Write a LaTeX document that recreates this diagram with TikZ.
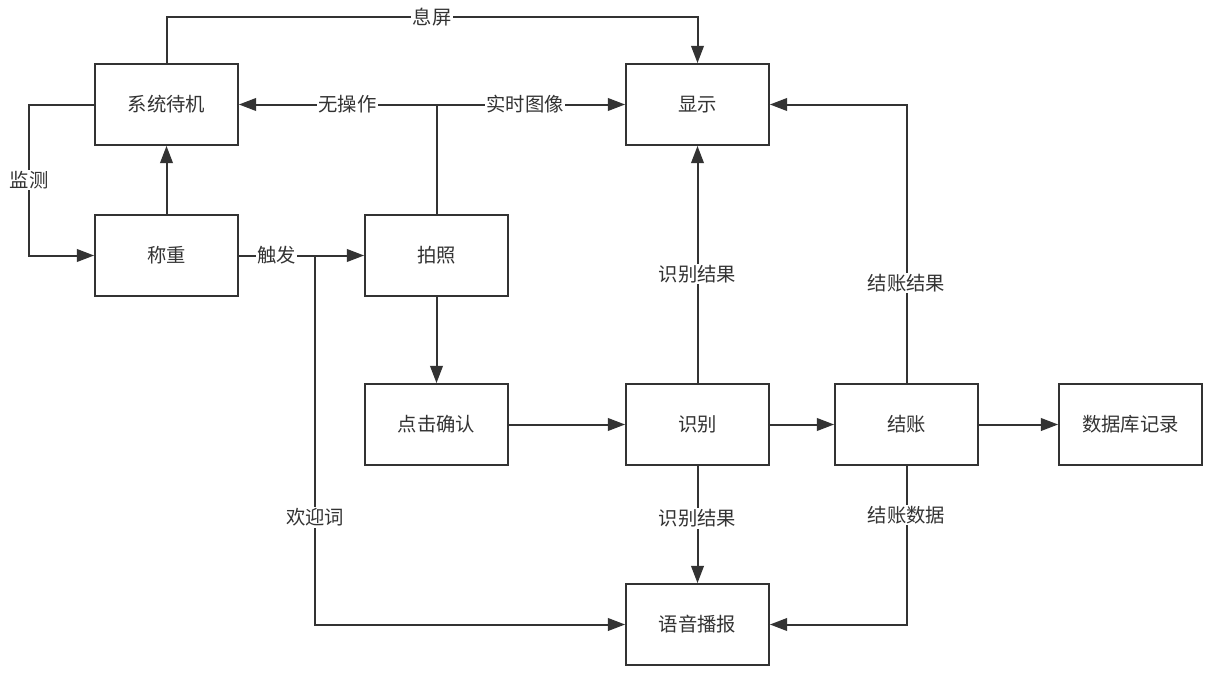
\documentclass[tikz,border=0pt]{standalone}
\usepackage{fontspec}
\setmainfont{Noto Sans CJK SC}
\usetikzlibrary{arrows.meta}
\definecolor{ink}{HTML}{333333}
\begin{document}
\begin{tikzpicture}[x=0.75pt,y=-0.75pt,
  box/.style={draw=ink,line width=1.6pt,minimum width=107pt,minimum height=60.5pt,inner sep=0pt,text=ink,font=\fontsize{14.5}{16}\selectfont},
  conn/.style={draw=ink,line width=1.5pt},
  arr/.style={conn,-{Triangle[length=13pt,width=9.5pt]}},
  lbl/.style={fill=white,inner sep=1pt,text=ink,font=\fontsize{14.5}{16}\selectfont}]
\useasboundingbox (0,0) rectangle (1213,678);
\fill[white] (0,0) rectangle (1213,678);

% boxes
\node[box] (standby) at (166.5,104.5) {系统待机};
\node[box] (weigh)   at (166.5,255.5) {称重};
\node[box] (photo)   at (436.5,255.5) {拍照};
\node[box] (show)    at (697.5,104.5) {显示};
\node[box] (confirm) at (436.5,424.5) {点击确认};
\node[box] (recog)   at (697.5,424.5) {识别};
\node[box] (pay)     at (906.5,424.5) {结账};
\node[box] (db)      at (1130.5,424.5) {数据库记录};
\node[box] (voice)   at (697.5,624.5) {语音播报};

% helper points
\coordinate (split) at (315,255.5);
\coordinate (fork) at (436.5,104.5);

% screen off
\draw[arr] (standby.north) -- ++(0,-46) -| node[lbl,pos=0.25] {息屏} (show.north);
% monitoring loop
\draw[arr] (standby.west) -- ++(-65,0) |- node[lbl,pos=0.25] {监测} (weigh.west);
\draw[arr] (weigh.north) -- (standby.south);
% trigger
\draw[arr] (weigh.east) -- node[lbl,pos=0.3] {触发} (photo.west);
% photo outputs
\draw[conn] (photo.north) -- (fork);
\draw[arr] (fork) -- node[lbl,pos=0.45] {无操作} (standby.east);
\draw[arr] (fork) -- node[lbl,pos=0.47] {实时图像} (show.west);
\draw[arr] (photo.south) -- (confirm.north);
\draw[arr] (confirm.east) -- (recog.west);
% recognition
\draw[arr] (recog.north) -- node[lbl,pos=0.46] {识别结果} (show.south);
\draw[arr] (recog.east) -- (pay.west);
\draw[arr] (recog.south) -- node[lbl,pos=0.45] {识别结果} (voice.north);
% checkout
\draw[arr] (pay.east) -- (db.west);
\draw[arr] (pay.north) |- node[lbl,pos=0.18] {结账结果} (show.east);
\draw[arr] (pay.south) |- node[lbl,pos=0.155] {结账数据} (voice.east);
% welcome message
\draw[arr] (split) |- node[lbl,pos=0.355] {欢迎词} (voice.west);
\end{tikzpicture}
\end{document}
